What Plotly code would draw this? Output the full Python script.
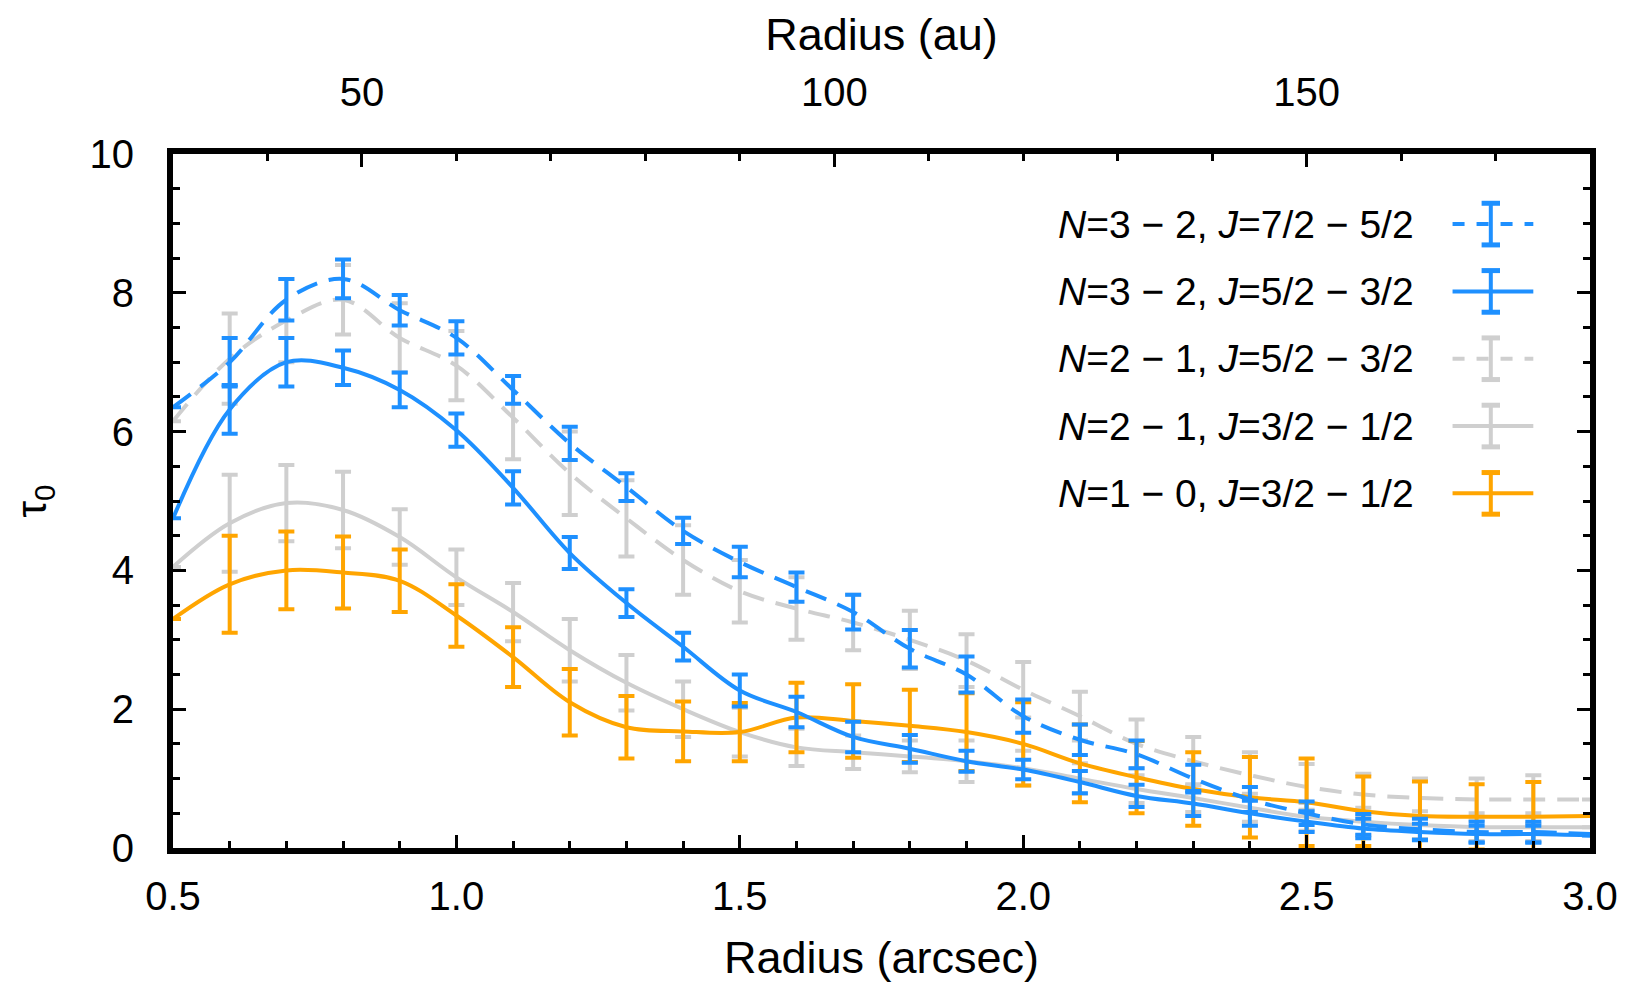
import plotly.graph_objects as go

# ---------------- data ----------------
radius_arcsec = [0.5, 0.6, 0.7, 0.8, 0.9, 1.0, 1.1, 1.2, 1.3, 1.4, 1.5, 1.6, 1.7,
                 1.8, 1.9, 2.0, 2.1, 2.2, 2.3, 2.4, 2.5, 2.6, 2.7, 2.8, 2.9, 3.0]
DIST_PC = 60.0  # au per arcsec

tau_32_75 = [6.35, 7.0, 7.9, 8.2, 7.75, 7.35, 6.6, 5.83, 5.2, 4.57, 4.12, 3.76, 3.4,
             2.87, 2.5, 1.9, 1.56, 1.35, 1.0, 0.7, 0.5, 0.34, 0.27, 0.23, 0.23, 0.2]
err_32_75 = [None, 0.35, 0.3, 0.28, 0.22, 0.24, 0.2, 0.24, 0.2, 0.19, 0.22, 0.21, 0.25,
             0.27, 0.26, 0.24, 0.22, 0.2, 0.2, 0.18, 0.17, 0.15, 0.15, 0.15, 0.15, None]

tau_32_53 = [4.75, 6.32, 7.0, 6.92, 6.6, 6.02, 5.19, 4.25, 3.53, 2.9, 2.27, 1.96, 1.6,
             1.43, 1.25, 1.13, 0.95, 0.75, 0.64, 0.5, 0.38, 0.28, 0.23, 0.2, 0.2, 0.18]
err_32_53 = [None, 0.35, 0.35, 0.25, 0.25, 0.24, 0.24, 0.23, 0.2, 0.2, 0.23, 0.22, 0.22,
             0.2, 0.15, 0.14, 0.16, 0.16, 0.18, 0.18, 0.15, 0.14, 0.12, 0.12, 0.12, None]

tau_21_53 = [6.15, 7.05, 7.6, 7.9, 7.35, 6.95, 6.2, 5.4, 4.75, 4.15, 3.7, 3.45, 3.25,
             3.0, 2.7, 2.28, 1.9, 1.5, 1.25, 1.05, 0.88, 0.77, 0.72, 0.7, 0.7, 0.7]
err_21_53 = [None, 0.65, 0.6, 0.5, 0.5, 0.5, 0.6, 0.6, 0.55, 0.5, 0.45, 0.45, 0.4,
             0.42, 0.38, 0.4, 0.35, 0.35, 0.35, 0.33, 0.33, 0.3, 0.28, 0.3, 0.35, None]

tau_21_31 = [4.05, 4.68, 4.97, 4.87, 4.48, 3.9, 3.4, 2.85, 2.38, 2.0, 1.67, 1.45, 1.38,
             1.32, 1.25, 1.15, 1.0, 0.85, 0.72, 0.58, 0.45, 0.38, 0.33, 0.3, 0.3, 0.3]
err_21_31 = [None, 0.7, 0.55, 0.55, 0.4, 0.4, 0.42, 0.45, 0.4, 0.4, 0.35, 0.27, 0.24,
             0.23, 0.3, 0.25, 0.22, 0.2, 0.2, 0.2, 0.2, 0.2, 0.2, 0.2, 0.2, None]

tau_10_31 = [3.3, 3.8, 4.0, 3.97, 3.85, 3.35, 2.75, 2.1, 1.74, 1.68, 1.67, 1.88, 1.83,
             1.76, 1.67, 1.5, 1.22, 1.02, 0.85, 0.73, 0.66, 0.53, 0.46, 0.45, 0.45, 0.46]
err_10_31 = [None, 0.7, 0.56, 0.52, 0.45, 0.45, 0.43, 0.48, 0.45, 0.43, 0.42, 0.5, 0.53,
             0.52, 0.56, 0.6, 0.56, 0.52, 0.53, 0.58, 0.63, 0.5, 0.5, 0.47, 0.5, None]

labels = [
    "<i>N</i>=3 − 2, <i>J</i>=7/2 − 5/2",
    "<i>N</i>=3 − 2, <i>J</i>=5/2 − 3/2",
    "<i>N</i>=2 − 1, <i>J</i>=5/2 − 3/2",
    "<i>N</i>=2 − 1, <i>J</i>=3/2 − 1/2",
    "<i>N</i>=1 − 0, <i>J</i>=3/2 − 1/2",
]

BLUE = "#1E90FF"
GRAY = "#CFCFCF"
ORANGE = "#FFA500"
DASH = "22px,12px"

series = [  # (values, errors, colour, dash, legend index) in drawing order
    (tau_21_53, err_21_53, GRAY, DASH, 2),
    (tau_21_31, err_21_31, GRAY, "solid", 3),
    (tau_10_31, err_10_31, ORANGE, "solid", 4),
    (tau_32_53, err_32_53, BLUE, "solid", 1),
    (tau_32_75, err_32_75, BLUE, DASH, 0),
]

FONT = "Liberation Sans, Arial, Helvetica, sans-serif"

fig = go.Figure()
for vals, errs, col, dash, idx in series:
    fig.add_trace(go.Scatter(
        x=radius_arcsec, y=vals, mode="lines", name=labels[idx],
        line=dict(color=col, width=4, dash=dash, shape="spline", smoothing=1.0),
        error_y=dict(type="data", array=errs, visible=True, color=col,
                     thickness=4, width=8),
        showlegend=False, hoverinfo="x+y",
    ))

# invisible trace to activate the top (au) axis
fig.add_trace(go.Scatter(
    x=[radius_arcsec[0] * DIST_PC, radius_arcsec[-1] * DIST_PC], y=[None, None],
    xaxis="x2", mode="lines", showlegend=False, hoverinfo="skip"))

# ---------------- manual legend (text left, symbol right) ----------------
order_styles = [(BLUE, DASH), (BLUE, "solid"), (GRAY, DASH), (GRAY, "solid"), (ORANGE, "solid")]
row_y = [0.899, 0.802, 0.705, 0.608, 0.511]
x_text = 0.877
x0, x1, xc = 0.903, 0.960, 0.930
bar_h, cap_w = 0.030, 0.0065
for i, (lab, (col, dash), yy) in enumerate(zip(labels, order_styles, row_y)):
    fig.add_annotation(x=x_text, y=yy, xref="paper", yref="paper", text=lab,
                       showarrow=False, xanchor="right", yanchor="middle",
                       font=dict(size=39, color="black", family=FONT))
    fig.add_shape(type="line", xref="paper", yref="paper", x0=x0, x1=x1, y0=yy, y1=yy,
                  line=dict(color=col, width=4, dash=("dash" if dash != "solid" else "solid")))
    fig.add_shape(type="line", xref="paper", yref="paper", x0=xc, x1=xc,
                  y0=yy - bar_h, y1=yy + bar_h, line=dict(color=col, width=4))
    for s in (-1, 1):
        fig.add_shape(type="line", xref="paper", yref="paper", x0=xc - cap_w, x1=xc + cap_w,
                      y0=yy + s * bar_h, y1=yy + s * bar_h, line=dict(color=col, width=5))

axis_common = dict(showgrid=False, zeroline=False, linecolor="black", linewidth=6,
                   ticks="inside", tickcolor="black", tickwidth=3, ticklen=13,
                   automargin=False,
                   tickfont=dict(size=40, color="black", family=FONT))

# the page body has an 8px margin, so the figure is 16px smaller than the window
fig.update_layout(
    width=1613, height=975,
    margin=dict(l=165, r=31, t=146, b=135, autoexpand=False),
    paper_bgcolor="white", plot_bgcolor="white",
    font=dict(family=FONT, color="black"),
    xaxis=dict(range=[0.5, 3.0], dtick=0.5, tick0=0.5, tickformat=".1f", showline=True,
               mirror=False, ticklabelstandoff=8,
               minor=dict(ticks="inside", dtick=0.1, ticklen=7, tickwidth=3, tickcolor="black"),
               title=dict(text="Radius (arcsec)", font=dict(size=45, family=FONT), standoff=56),
               **axis_common),
    xaxis2=dict(range=[radius_arcsec[0] * DIST_PC, radius_arcsec[-1] * DIST_PC],
                overlaying="x", side="top", tickvals=[50, 100, 150], showline=True,
                ticklabelstandoff=26,
                minor=dict(ticks="inside", dtick=10, tick0=0, ticklen=7, tickwidth=3, tickcolor="black"),
                title=dict(text="Radius (au)", font=dict(size=45, family=FONT), standoff=7),
                **axis_common),
    yaxis=dict(range=[0, 10], dtick=2, showline=True, mirror="ticks",
               ticklabelstandoff=25,
               minor=dict(ticks="inside", dtick=0.5, ticklen=7, tickwidth=3, tickcolor="black"),
               title=dict(text="τ<sub>0</sub>", font=dict(size=42, family=FONT), standoff=33),
               **axis_common),
)

fig.write_html("out.html")
